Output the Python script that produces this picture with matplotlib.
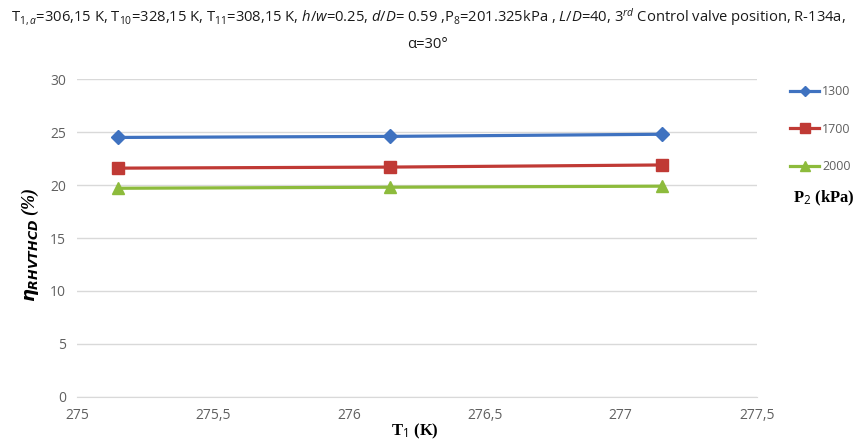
import matplotlib.pyplot as plt
import numpy as np

plt.rcParams['font.family'] = ['Open Sans', 'DejaVu Sans']
plt.rcParams['mathtext.fontset'] = 'custom'
plt.rcParams['mathtext.rm'] = 'Open Sans'
plt.rcParams['mathtext.it'] = 'Open Sans:italic'
plt.rcParams['mathtext.bf'] = 'Liberation Serif:bold'

# inlet temperature T1 (K) and efficiency (%) for each P2 (kPa)
t1 = [275.15, 276.15, 277.15]
eta_1300 = [24.5, 24.6, 24.8]
eta_1700 = [21.6, 21.7, 21.9]
eta_2000 = [19.7, 19.8, 19.9]
p2_labels = ['1300', '1700', '2000']

x_ticks = [275, 275.5, 276, 276.5, 277, 277.5]
y_ticks = [0, 5, 10, 15, 20, 25, 30]

fig = plt.figure(figsize=(8.56, 4.4), dpi=100)
ax = fig.add_axes([0.09, 0.098, 0.794, 0.722])

series = [
    (eta_1300, '#3F72C0', 'D', 7),
    (eta_1700, '#C03A35', 's', 9),
    (eta_2000, '#8DBB3C', '^', 9),
]
for (vals, col, mk, ms), lab in zip(series, p2_labels):
    ax.plot(t1, vals, color=col, marker=mk, markersize=ms, linewidth=2.3, label=lab)

ax.set_xlim(275, 277.5)
ax.set_ylim(0, 30)
ax.set_xticks(x_ticks)
ax.set_xticklabels([f'{v:g}'.replace('.', ',') for v in x_ticks])
ax.set_yticks(y_ticks)
ax.grid(axis='y', color='#d9d9d9', linewidth=1)
ax.set_axisbelow(True)
for side in ['top', 'right', 'left']:
    ax.spines[side].set_visible(False)
ax.spines['bottom'].set_color('#d9d9d9')
ax.tick_params(length=0, labelsize=10, colors='#606060', pad=8)

# axis titles placed on the figure
fig.text(0.485, 0.02, r'T$_{1}$ (K)', fontsize=12, fontweight='bold',
         family='Liberation Serif', ha='center', va='center')
fig.text(0.036, 0.445, r'$\boldsymbol{\eta}_{\mathbfit{RHVTHCD}}$ (%)', fontsize=13,
         fontweight='bold', style='italic', family='Liberation Serif',
         rotation=90, ha='center', va='center')

leg = ax.legend(loc='upper left', bbox_to_anchor=(1.04, 1.0), frameon=False,
                labelspacing=1.95, handlelength=2.3, fontsize=9, borderpad=0,
                markerscale=0.75, handletextpad=0.25)
for t in leg.get_texts():
    t.set_color('#606060')
fig.text(0.963, 0.55, r'P$_{2}$ (kPa)', fontsize=12, fontweight='bold',
         family='Liberation Serif', ha='center', va='center')

fig.text(0.5, 0.961,
         r'T$_{1,a}$=306,15 K, T$_{10}$=328,15 K, T$_{11}$=308,15 K, $h/w$=0.25, $d/D$= 0.59 ,'
         r'P$_{8}$=201.325kPa , $L/D$=40, 3$^{rd}$ Control valve position, R-134a,',
         ha='center', va='center', fontsize=10.6, color='#1a1a1a')
fig.text(0.5, 0.9, 'α=30°', ha='center', va='center', fontsize=10.6, color='#1a1a1a')

fig.savefig('out.png', dpi=100)
